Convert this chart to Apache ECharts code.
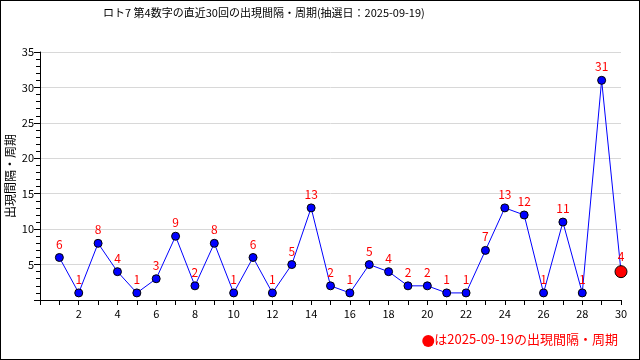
<!DOCTYPE html>
<html><head><meta charset="utf-8">
<script src="https://cdn.jsdelivr.net/npm/echarts@6/dist/echarts.min.js"></script>
<style>html,body{margin:0;padding:0;background:#fff}#c{width:638px;height:358px;border:1px solid #000}</style>
</head><body><div id="c"></div>
<script>
const titleText = 'ロト7 第4数字の直近30回の出現間隔・周期(抽選日：2025-09-19)';
const yName = '出現間隔・周期';
const legendText = 'は2025-09-19の出現間隔・周期';
const draws = [1,2,3,4,5,6,7,8,9,10,11,12,13,14,15,16,17,18,19,20,21,22,23,24,25,26,27,28,29,30];
const gaps = [6,1,8,4,1,3,9,2,8,1,6,1,5,13,2,1,5,4,2,2,1,1,7,13,12,1,11,1,31,4];
const font = '"Noto Sans CJK JP", "DejaVu Sans", sans-serif';

const chart = echarts.init(document.getElementById('c'));
const pts = draws.map((d, i) => {
  const last = i === draws.length - 1;
  return {
    value: [d, gaps[i]],
    symbolSize: last ? 12 : 8,
    itemStyle: last ? {color: '#ff0000', borderColor: '#000', borderWidth: 1} : {color: '#0000ff', borderColor: '#000', borderWidth: 1}
  };
});
chart.setOption({
  animation: false,
  title: {text: titleText, left: 97, top: 1, textStyle: {fontSize: 11, fontWeight: 'normal', color: '#000', fontFamily: font}},
  grid: {left: 39, right: 18, top: 51, bottom: 59, containLabel: false, outerBoundsMode: 'none'},
  xAxis: {
    type: 'value', min: 0, max: 30, interval: 1,
    axisLine: {lineStyle: {color: '#000'}},
    axisTick: {show: true, length: 5, lineStyle: {color: '#000'}},
    axisLabel: {color: '#000', fontSize: 11, fontFamily: font, margin: 8,
      formatter: v => (v > 0 && v % 2 === 0) ? String(v) : ''},
    splitLine: {show: false}
  },
  yAxis: {
    type: 'value', min: 0, max: 35, interval: 5,
    name: yName, nameLocation: 'middle', nameGap: 24, nameMoveOverlap: false,
    nameTextStyle: {color: '#000', fontSize: 12, fontFamily: font},
    axisLine: {show: true, lineStyle: {color: '#000'}},
    axisTick: {show: true, length: 6, lineStyle: {color: '#000'}},
    minorTick: {show: true, splitNumber: 5, length: 4, lineStyle: {color: '#000'}},
    axisLabel: {color: '#000', fontSize: 11, fontFamily: font, margin: 6,
      formatter: v => v === 0 ? '' : String(v)},
    splitLine: {show: true, lineStyle: {color: '#d8d8d8'}}
  },
  series: [{
    type: 'line', data: pts, symbol: 'circle',
    lineStyle: {color: '#0000ff', width: 1},
    label: {show: true, position: 'top', distance: 3, color: '#ff0000', fontSize: 12, fontFamily: font,
      formatter: p => String(p.value[1])}
  }],
  graphic: [{
    type: 'group', right: 21, bottom: 12,
    children: [
      {type: 'circle', shape: {cx: 6, cy: 8, r: 6}, style: {fill: '#ff0000'}},
      {type: 'text', x: 12, y: 0, style: {text: legendText, fill: '#ff0000', fontSize: 13, fontFamily: font}}
    ]
  }]
});
</script></body></html>
